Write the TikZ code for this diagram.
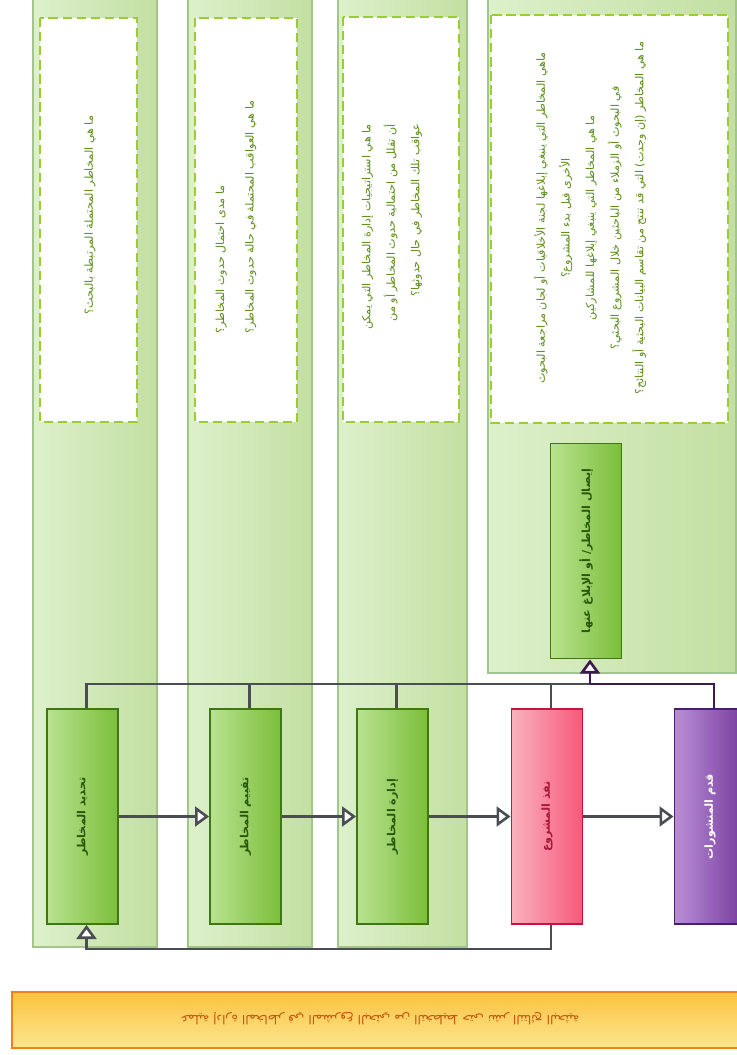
\documentclass[tikz,border=0pt]{standalone}
\usepackage{fontspec}
\newfontfamily\arabicfont[Script=Arabic]{DejaVu Sans}
\TeXXeTstate=1
\usepackage{graphicx}
\usepackage{xcolor}
\usepackage{tikz}
\usetikzlibrary{arrows.meta}

\newcommand{\ar}[1]{\beginR #1\endR}

\definecolor{laneL}{HTML}{DDF0CB}
\definecolor{laneR}{HTML}{C3DFA2}
\definecolor{laneline}{HTML}{A2C68A}
\definecolor{dashgreen}{HTML}{9ACD32}
\definecolor{qgreen}{HTML}{5A8E18}
\definecolor{boxL}{HTML}{B9E290}
\definecolor{boxR}{HTML}{7BBE3A}
\definecolor{boxline}{HTML}{3E7812}
\definecolor{boxtext}{HTML}{2A560C}
\definecolor{redL}{HTML}{F9B2BE}
\definecolor{redR}{HTML}{F7587A}
\definecolor{redline}{HTML}{C8143C}
\definecolor{redtext}{HTML}{A8163A}
\definecolor{purL}{HTML}{B98ED6}
\definecolor{purR}{HTML}{763A9C}
\definecolor{purline}{HTML}{4A1F6A}
\definecolor{conngray}{HTML}{4A4E54}
\definecolor{connpur}{HTML}{3A1A50}
\definecolor{barT}{HTML}{FBC23E}
\definecolor{barB}{HTML}{FBE690}
\definecolor{barline}{HTML}{F0821E}
\definecolor{bartext}{HTML}{C4560E}

\begin{document}
\begin{tikzpicture}[x=0.03cm,y=-0.03cm,
  lane/.style={draw=laneline,line width=1.2pt,left color=laneL,right color=laneR},
  qbox/.style={draw=dashgreen,line width=1.8pt,dash pattern=on 8pt off 4pt,fill=white},
  qtext/.style={rotate=90,align=center,text=qgreen,
    font=\arabicfont\fontsize{9.5}{21}\selectfont},
  stepbox/.style={draw=boxline,line width=1.6pt,left color=boxL,right color=boxR,
    minimum width=2.13cm,minimum height=6.45cm,inner sep=0pt,text=boxtext,
    font=\arabicfont\bfseries\fontsize{9.5}{11}\selectfont},
  redbox/.style={stepbox,draw=redline,left color=redL,right color=redR,text=redtext},
  purbox/.style={stepbox,draw=purline,left color=purL,right color=purR,text=white},
  conn/.style={draw=conngray,line width=2.2pt},
  connp/.style={draw=connpur,line width=2.2pt},
  tri/.style={-{Triangle[length=12pt,width=17pt,fill=white]}}
]
\useasboundingbox (0,0) rectangle (737,1055);

% Lanes
\draw[lane] (33,-20) rectangle (157,947);
\draw[lane] (188,-20) rectangle (312,947);
\draw[lane] (338,-20) rectangle (467,947);
\draw[lane] (488,-20) rectangle (736,673);

% Questions
\draw[qbox] (40,18) rectangle (137,422);
\node[qtext] (q1) at (90,215) {\ar{ما هي المخاطر المحتملة المرتبطة بالبحث؟}};

\draw[qbox] (195,18) rectangle (297,422);
\node[qtext,align=left,font=\arabicfont\fontsize{9.5}{25}\selectfont] (q2) at (236,217)
  {\ar{ما مدى احتمال حدوث المخاطر؟}\\
  \ar{ما هي العواقب المحتملة في حالة حدوث المخاطر؟}};

\draw[qbox] (343,17) rectangle (459,422);
\node[qtext,align=right] (q3) at (392,227) {\ar{ما هي استراتيجيات إدارة المخاطر التي يمكن}\\
  \ar{أن تقلل من احتمالية حدوث المخاطر أو من}\\
  \ar{عواقب تلك المخاطر في حال حدوثها؟}};

\draw[qbox] (491,15) rectangle (728,423);
\node[qtext] (q4) at (590,218) {\ar{ماهي المخاطر التي ينبغي إبلاغها لجنة الأخلاقيات أو لجان مراجعة البحوث}\\
  \ar{الأخرى قبل بدء المشروع؟}\\
  \ar{ما هي المخاطر التي ينبغي إبلاغها للمشاركين}\\
  \ar{في البحوث أو الزملاء من الباحثين خلال المشروع البحثي؟}\\
  \ar{ما هي المخاطر (إن وجدت) التي قد تنتج من تقاسم البيانات البحثية أو النتائج؟}};

% Steps
\node[stepbox] (ident) at (82.5,816.5) {\rotatebox{90}{\ar{تحديد المخاطر}}};
\node[stepbox] (assess) at (245.5,816.5) {\rotatebox{90}{\ar{تقييم المخاطر}}};
\node[stepbox] (manage) at (392.5,816.5) {\rotatebox{90}{\ar{إدارة المخاطر}}};
\node[redbox] (execute) at (547,816.5) {\rotatebox{90}{\ar{نفذ المشروع}}};
\node[purbox] (publish) at (710,816.5) {\rotatebox{90}{\ar{قدم المنشورات}}};
\node[stepbox] (comm) at (586,551) {\rotatebox{90}{\ar{إيصال المخاطر/ أو الإبلاغ عنها}}};

% Flow
\draw[conn,tri] (ident) -- (assess);
\draw[conn,tri] (assess) -- (manage);
\draw[conn,tri] (manage) -- (execute);
\draw[conn,tri] (execute) -- (publish);

% Reporting bus
\coordinate (bus) at (590,684);
\foreach \n in {ident,assess,manage,execute}
  \draw[conn] ([xshift=1.2mm]\n.north) |- (bus);
\draw[connp] ([xshift=1.2mm]publish.north) |- (bus);
\draw[connp,tri] (bus) -- (comm.south -| bus);

% Feedback
\draw[conn,tri] ([xshift=1.2mm]execute.south) -- ++(0,24) -| ([xshift=1.2mm]ident.south);

% Title bar
\draw[draw=barline,line width=1.5pt,top color=barT,bottom color=barB] (12,992) rectangle (760,1048);
\node[rotate=180,text=bartext,font=\arabicfont\fontsize{10.5}{12}\selectfont] (title) at (380,1019)
  {\ar{عملية إدارة المخاطر في المشروع البحثي من التخطيط حتى نشر النتائج البحثية}};
\end{tikzpicture}
\end{document}
